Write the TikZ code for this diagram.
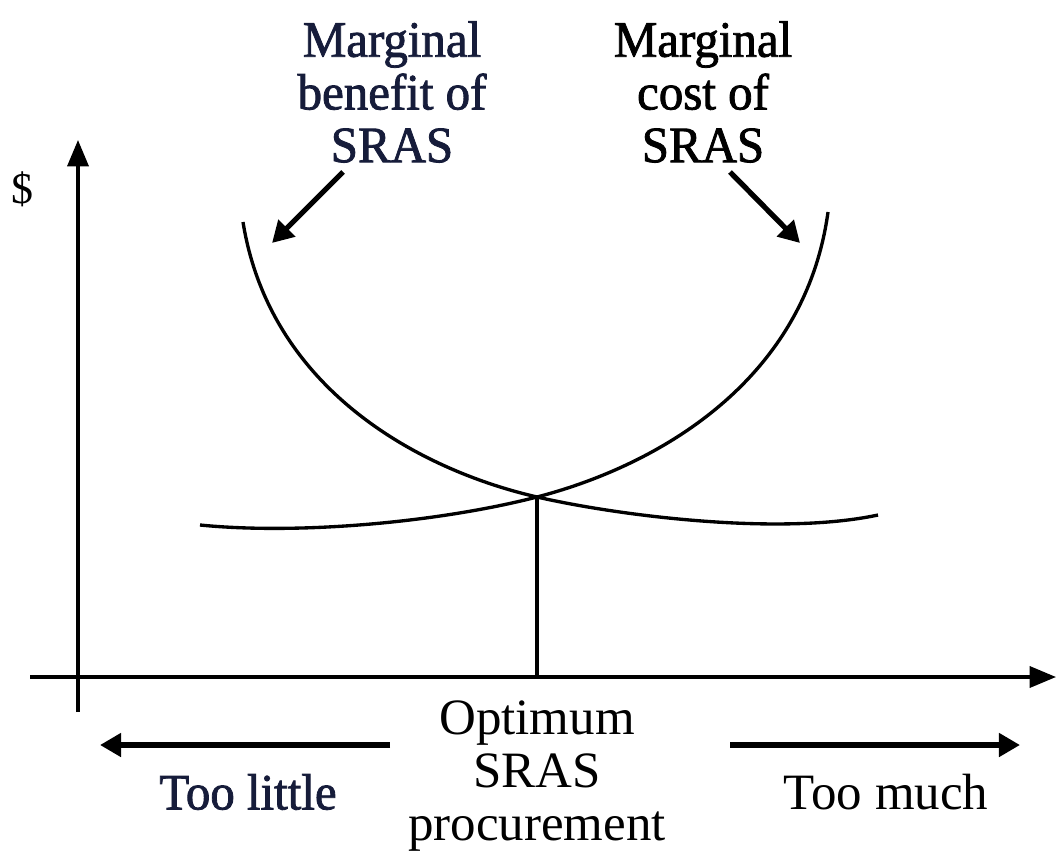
\documentclass[tikz,border=0pt]{standalone}
\usepackage{fontspec}
\setmainfont{Liberation Serif}
\newfontfamily\heavyserif[FakeBold=1.6,FakeStretch=0.96]{Liberation Serif}
\usetikzlibrary{arrows.meta}
\definecolor{navy}{RGB}{22,28,58}
\tikzset{
  curve/.style={line width=1.9pt},
  axis/.style={line width=1.9pt,-{Triangle[length=15pt,width=12pt]}},
  pointer/.style={line width=3pt,-{Triangle[length=12pt,width=13pt]}},
  label/.style={font=\fontsize{29}{30}\selectfont,align=center,inner sep=0pt},
  heavylabel/.style={font=\fontsize{29}{30}\selectfont\heavyserif,align=center,inner sep=0pt},
}
\begin{document}
\begin{tikzpicture}[x=0.02cm,y=-0.02cm]
\useasboundingbox (0,0) rectangle (1057,851);
% axes
\coordinate (yb) at (78,712);
\coordinate (yt) at (78,140);
\coordinate (xl) at (30,677);
\coordinate (xr) at (1056,677);
\draw[axis] (yb) -- (yt);
\draw[axis] (xl) -- (xr);
\node[label,font=\fontsize{25}{27}\selectfont] (dollar) at (22,189) {\$};
% curves
\coordinate (E) at (537,497);
\coordinate (Eb) at (537,677);
\draw[curve] (243,222) .. controls (270,390) and (420,470) .. (E)
             .. controls (620,516) and (780,536) .. (878,515);
\draw[curve] (828,212) .. controls (805,380) and (660,465) .. (E)
             .. controls (440,522) and (300,535) .. (200,525);
\draw[curve] (E) -- (Eb);
% top labels
\node[heavylabel,text=navy] (mb) at (392,92) {Marginal\\benefit of\\SRAS};
\node[heavylabel] (mc) at (703,92) {Marginal\\cost of\\SRAS};
\coordinate (mbs) at (343,172);
\coordinate (mbt) at (272,243);
\coordinate (mcs) at (730,172);
\coordinate (mct) at (800,243);
\draw[pointer] (mbs) -- (mbt);
\draw[pointer] (mcs) -- (mct);
% bottom labels
\node[label] (opt) at (537,776) {Optimum\\SRAS\\procurement};
\node[heavylabel,text=navy] (little) at (248,792) {Too little};
\node[label] (much) at (886,792) {Too much};
\coordinate (ls) at (390,745);
\coordinate (lt) at (100,745);
\coordinate (rs) at (730,745);
\coordinate (rt) at (1020,745);
\draw[pointer] (ls) -- (lt);
\draw[pointer] (rs) -- (rt);
\end{tikzpicture}
\end{document}
